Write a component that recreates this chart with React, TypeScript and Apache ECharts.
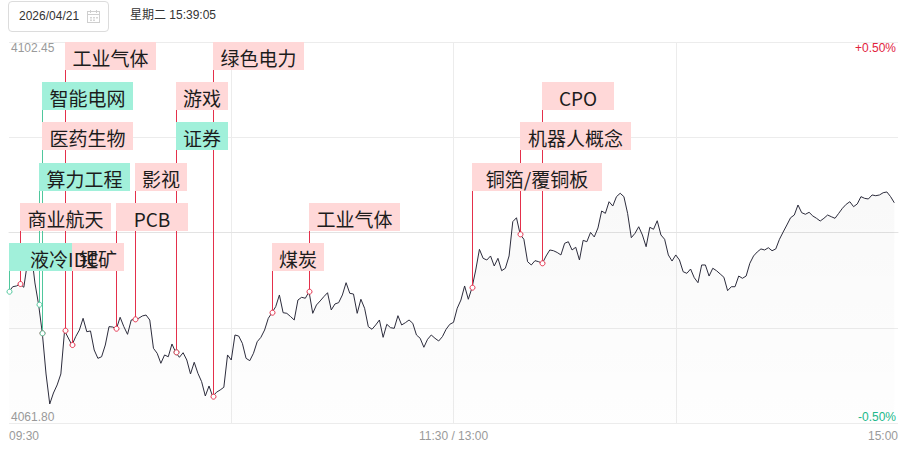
import React, { useEffect, useRef } from 'react';
import * as echarts from 'echarts';

// Minute-by-minute index level (index = minutes since 09:30, lunch break removed)
const PRICES = [
  4075.81, 4076.34, 4076.42, 4076.63, 4076.28, 4078.98, 4080.05, 4076.74, 4074.42, 4071.37,
  4067.03, 4063.83, 4065.0, 4065.86, 4067.03, 4071.65, 4070.87, 4070.12, 4071.01, 4071.72,
  4072.97, 4071.54, 4071.62, 4069.59, 4068.7, 4068.87, 4070.12, 4072.08, 4072.04, 4071.86,
  4073.08, 4072.08, 4071.26, 4072.79, 4072.86, 4072.97, 4073.22, 4073.32, 4072.79, 4069.77,
  4069.24, 4068.17, 4069.06, 4068.87, 4070.23, 4069.34, 4068.81, 4069.3, 4068.52, 4067.03,
  4068.28, 4067.1, 4066.21, 4064.68, 4065.75, 4064.61, 4065.08, 4065.32, 4065.61, 4069.06,
  4068.52, 4071.19, 4071.08, 4070.3, 4068.7, 4068.45, 4069.24, 4070.47, 4070.94, 4071.72,
  4072.97, 4073.57, 4074.21, 4075.46, 4073.57, 4073.5, 4073.16, 4072.79, 4074.92, 4075.21,
  4075.11, 4075.81, 4073.5, 4074.39, 4074.82, 4075.28, 4075.7, 4073.86, 4074.5, 4074.64,
  4075.46, 4076.77, 4075.64, 4075.56, 4073.5, 4075.0, 4074.04, 4072.08, 4071.8, 4072.26,
  4072.79, 4070.94, 4072.33, 4071.97, 4071.9, 4073.25, 4072.26, 4072.5, 4072.79, 4072.44,
  4071.19, 4070.84, 4069.88, 4070.73, 4071.19, 4070.84, 4070.55, 4071.01, 4071.8, 4072.33,
  4072.54, 4074.04, 4074.92, 4076.42, 4075.0, 4076.24, 4078.12, 4080.33, 4079.37, 4079.19,
  4079.62, 4078.55, 4079.37, 4078.05, 4078.31, 4079.62, 4083.28, 4083.7, 4081.93, 4081.4,
  4079.01, 4078.66, 4079.12, 4079.01, 4078.84, 4079.62, 4080.26, 4080.18, 4079.99, 4079.73,
  4080.97, 4081.14, 4080.26, 4080.55, 4079.19, 4081.29, 4081.14, 4082.13, 4081.65, 4082.61,
  4084.42, 4084.17, 4085.41, 4084.95, 4085.95, 4086.31, 4085.95, 4084.17, 4081.57, 4082.04,
  4082.74, 4081.86, 4080.61, 4082.68, 4082.47, 4083.38, 4081.86, 4081.4, 4079.73, 4079.08,
  4079.73, 4079.19, 4077.94, 4077.77, 4078.23, 4077.3, 4076.77, 4078.66, 4078.66, 4077.48,
  4078.31, 4078.05, 4077.7, 4077.35, 4075.92, 4076.34, 4076.34, 4077.48, 4077.24, 4077.48,
  4078.84, 4079.62, 4080.05, 4080.37, 4080.26, 4080.5, 4080.18, 4080.37, 4081.4, 4082.18,
  4082.93, 4083.7, 4083.99, 4085.06, 4084.24, 4084.07, 4084.28, 4083.89, 4083.64, 4083.35,
  4083.64, 4083.99, 4083.81, 4083.64, 4084.17, 4084.71, 4085.13, 4085.41, 4084.88, 4085.17,
  4085.95, 4085.77, 4085.7, 4086.13, 4086.05, 4086.13, 4086.37, 4086.45, 4085.95, 4085.3,
];

const PRICE_MIN = 4061.8;
const PRICE_MAX = 4102.45;
const PCT_MIN = -0.5;
const PCT_MAX = 0.5;
const TOTAL_MINUTES = 240;
const X_TICK_LABELS = ['09:30', '', '11:30 / 13:00', '', '15:00'];
const PCT_LABEL_UP = '+0.50%';
const PCT_LABEL_DOWN = '-0.50%';

const EVENT_NAMES = [
  '液冷IDC', '商业航天', '算力工程', '医药生物', '智能电网', '工业气体', '锂矿', 'PCB', '影视',
  '证券', '游戏', '绿色电力', '煤炭', '工业气体', '铜箔/覆铜板', '机器人概念', 'CPO',
];
const EVENT_MINUTES = [0, 3, 8, 9, 9, 15, 17, 29, 34, 45, 45, 55, 71, 81, 125, 138, 144];
const EVENT_ROWS = [5, 4, 3, 2, 1, 0, 5, 4, 3, 2, 1, 0, 5, 4, 3, 2, 1];
// 1 = green (down), 0 = red (up)
const EVENT_KINDS = [1, 0, 1, 0, 1, 0, 0, 0, 0, 1, 0, 0, 0, 0, 0, 0, 0];

const RED_LINE = '#e4304b';
const GREEN_LINE = '#4fc79c';
const RED_BG = '#ffd8d8';
const GREEN_BG = '#a1f0da';
const AXIS_FONT = '"Liberation Sans", Arial, sans-serif';

export default function App() {
  const ref = useRef<HTMLDivElement>(null);

  useEffect(() => {
    if (!ref.current) return;
    const chart = echarts.init(ref.current, undefined, { renderer: 'svg' });

    const lineData = PRICES.map((v, i) => [i, v]);
    const eventData = EVENT_MINUTES.map((m, k) => [m, PRICES[m], EVENT_ROWS[k], EVENT_KINDS[k]]);

    chart.setOption({
      animation: false,
      grid: { left: 9, right: 17, top: 42, bottom: 26, containLabel: false },
      xAxis: {
        type: 'value',
        min: 0,
        max: TOTAL_MINUTES,
        interval: 60,
        axisLine: { show: true, lineStyle: { color: '#e3e3e3', width: 1 } },
        axisTick: { show: false },
        splitLine: { show: true, showMinLine: false, showMaxLine: false, lineStyle: { color: '#ececec', width: 1 } },
        axisLabel: {
          show: true,
          margin: 7,
          color: '#9a9a9a',
          fontSize: 12,
          fontFamily: AXIS_FONT,
          showMinLabel: true,
          showMaxLabel: true,
          alignMinLabel: 'left',
          alignMaxLabel: 'right',
          formatter: (v: number) => X_TICK_LABELS[Math.round(v / 60)] ?? '',
        },
      },
      yAxis: [
        {
          type: 'value',
          min: PRICE_MIN,
          max: PRICE_MAX,
          interval: PRICE_MAX - PRICE_MIN,
          position: 'left',
          axisLine: { show: false },
          axisTick: { show: false },
          splitLine: { show: false },
          axisLabel: {
            inside: true,
            margin: 2,
            showMinLabel: true,
            showMaxLabel: true,
            color: '#9a9a9a',
            fontSize: 12,
            fontFamily: AXIS_FONT,
            formatter: (v: number) =>
              Math.abs(v - PRICE_MAX) < 0.01
                ? '{top|' + PRICE_MAX.toFixed(2) + '}'
                : '{bot|' + PRICE_MIN.toFixed(2) + '}',
            rich: {
              top: { padding: [12, 0, 0, 0], color: '#9a9a9a', fontSize: 12, fontFamily: AXIS_FONT, lineHeight: 14 },
              bot: { padding: [0, 0, 12, 0], color: '#9a9a9a', fontSize: 12, fontFamily: AXIS_FONT, lineHeight: 14 },
            },
          },
        },
        {
          type: 'value',
          min: PCT_MIN,
          max: PCT_MAX,
          interval: 0.25,
          position: 'right',
          axisLine: { show: false },
          axisTick: { show: false },
          splitLine: { show: true, lineStyle: { color: '#ececec', width: 1 } },
          axisLabel: {
            inside: true,
            margin: 2,
            showMinLabel: true,
            showMaxLabel: true,
            fontSize: 12,
            fontFamily: AXIS_FONT,
            formatter: (v: number) => {
              if (v > 0.49) return '{up|' + PCT_LABEL_UP + '}';
              if (v < -0.49) return '{down|' + PCT_LABEL_DOWN + '}';
              return '';
            },
            rich: {
              up: { padding: [12, 0, 0, 0], color: '#e2233d', fontSize: 12, fontFamily: AXIS_FONT, lineHeight: 14 },
              down: { padding: [0, 0, 12, 0], color: '#22b98a', fontSize: 12, fontFamily: AXIS_FONT, lineHeight: 14 },
            },
          },
        },
      ],
      series: [
        {
          type: 'line',
          yAxisIndex: 0,
          data: lineData,
          showSymbol: false,
          symbol: 'none',
          z: 2,
          lineStyle: { color: '#2c2c3c', width: 1 },
          areaStyle: {
            origin: 'start',
            color: new echarts.graphic.LinearGradient(0, 0, 0, 1, [
              { offset: 0, color: 'rgba(0,0,0,0.035)' },
              { offset: 1, color: 'rgba(0,0,0,0.008)' },
            ]),
          },
        },
        {
          type: 'custom',
          yAxisIndex: 0,
          z: 5,
          clip: false,
          encode: { x: 0, y: 1 },
          data: eventData,
          renderItem: (params: any, api: any) => {
            const minute = api.value(0);
            const val = api.value(1);
            const row = api.value(2);
            const kind = api.value(3);
            const name = EVENT_NAMES[params.dataIndex];
            const pt = api.coord([minute, val]);
            const cs = params.coordSys;
            const top = Math.round(cs.y + row * 40.2);
            const h = 28;
            const w = Math.round(name.length * 19.5 + 13);
            const lc = kind ? GREEN_LINE : RED_LINE;
            const bg = kind ? GREEN_BG : RED_BG;
            const x = Math.round(pt[0]);
            return {
              type: 'group',
              children: [
                {
                  type: 'line',
                  z2: 1,
                  shape: { x1: x + 0.5, y1: pt[1], x2: x + 0.5, y2: top + h },
                  style: { stroke: lc, lineWidth: 1 },
                },
                {
                  type: 'rect',
                  z2: 10,
                  shape: { x: x, y: top, width: w, height: h },
                  style: { fill: bg },
                },
                {
                  type: 'text',
                  z2: 20,
                  style: {
                    text: name,
                    x: x + w / 2,
                    y: top + h / 2 + 1,
                    align: 'center',
                    verticalAlign: 'middle',
                    fill: '#1c1c1c',
                    font: '19px "Noto Sans CJK SC", sans-serif',
                  },
                },
                {
                  type: 'circle',
                  z2: 5,
                  shape: { cx: x + 0.5, cy: pt[1], r: 2.5 },
                  style: { fill: '#ffffff', stroke: lc, lineWidth: 1 },
                },
              ],
            };
          },
        },
      ],
    });

    return () => {
      chart.dispose();
    };
  }, []);

  return (
    <div style={{ position: 'fixed', left: 0, top: 0, width: 915, height: 449, background: '#fff', overflow: 'hidden' }}>
      <div ref={ref} style={{ position: 'absolute', left: 0, top: 0, width: 915, height: 449 }} />
      <div
        style={{
          position: 'absolute',
          left: 8,
          top: 1,
          width: 99,
          height: 29,
          border: '1px solid #dcdcdc',
          borderRadius: 4,
          background: '#fff',
        }}
      >
        <span
          style={{
            position: 'absolute',
            left: 10,
            top: 7,
            fontFamily: AXIS_FONT,
            fontSize: 12,
            lineHeight: '14px',
            color: '#333',
          }}
        >
          2026/04/21
        </span>
        <svg width="13" height="13" viewBox="0 0 13 13" style={{ position: 'absolute', left: 78, top: 8 }}>
          <rect x="0.5" y="1.5" width="12" height="11" fill="none" stroke="#cfcfcf" strokeWidth="1" />
          <line x1="0.5" y1="4.5" x2="12.5" y2="4.5" stroke="#cfcfcf" strokeWidth="1" />
          <line x1="3.5" y1="0" x2="3.5" y2="3" stroke="#cfcfcf" strokeWidth="1" />
          <line x1="9.5" y1="0" x2="9.5" y2="3" stroke="#cfcfcf" strokeWidth="1" />
          <rect x="3" y="7" width="2" height="1.5" fill="#d6d6d6" />
          <rect x="6" y="7" width="2" height="1.5" fill="#d6d6d6" />
          <rect x="9" y="7" width="2" height="1.5" fill="#d6d6d6" />
          <rect x="3" y="9.5" width="2" height="1.5" fill="#d6d6d6" />
          <rect x="6" y="9.5" width="2" height="1.5" fill="#d6d6d6" />
        </svg>
      </div>
      <span
        style={{
          position: 'absolute',
          left: 130,
          top: 8,
          fontFamily: '"Liberation Sans", Arial, "Noto Sans CJK SC", sans-serif',
          fontSize: 12,
          lineHeight: '14px',
          color: '#333',
        }}
      >
        星期二 15:39:05
      </span>
    </div>
  );
}
